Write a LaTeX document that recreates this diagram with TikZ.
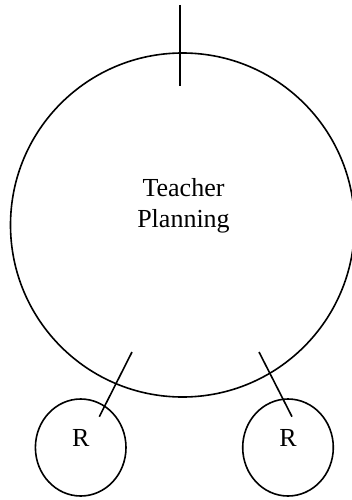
\documentclass[tikz,border=0pt]{standalone}
\usepackage{fontspec}
\setmainfont{Liberation Serif}
\usetikzlibrary{shapes.geometric}

\begin{document}
\begin{tikzpicture}[x=1pt, y=-1pt, line width=1.6pt,
    ring/.style={draw, circle, minimum size=344pt, inner sep=0pt},
    rbox/.style={draw, ellipse, minimum width=90.6pt, minimum height=97pt, inner sep=0pt}]
    \def \fs {\fontsize{26}{31}\selectfont}
    \useasboundingbox (0,0) rectangle (352,500);
    \node[ring] (plan) at (182.5,225) {};
    \node[align=center, font=\fs] (planText) at (183.5,206) {Teacher\\Planning};
    \coordinate (topEnd) at (180,5);
    \coordinate (topIn) at (180,86);
    \draw (topEnd) -- (topIn);
    \foreach \name/\x/\ax/\bx in {rLeft/80.7/132/99.3, rRight/288/259/292}
    {
      \node[rbox] (\name) at (\x,447.5) {};
      \node[font=\fs] at (\x,438) {R};
      \coordinate (\name a) at (\ax,352);
      \coordinate (\name b) at (\bx,416.7);
      \draw (\name a) -- (\name b);
    }
\end{tikzpicture}
\end{document}
